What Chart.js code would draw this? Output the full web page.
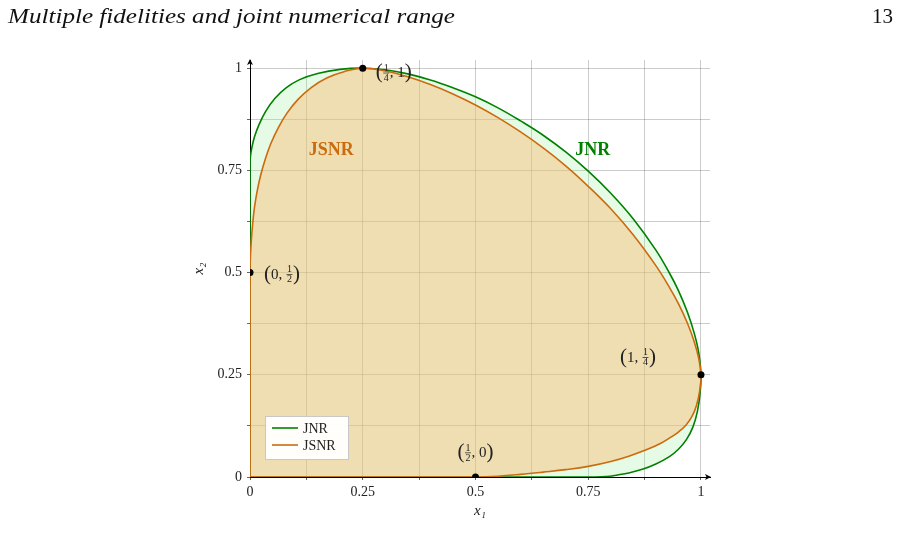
<!DOCTYPE html>
<html>
<head>
<meta charset="utf-8">
<script src="https://cdn.jsdelivr.net/npm/chart.js@4.4.1/dist/chart.umd.min.js"></script>
<style>
  html, body { margin: 0; background: #fff; }
  #wrap { width: 900px; height: 560px; position: relative; }
</style>
</head>
<body>
<div id="wrap"><canvas id="chart"></canvas></div>
<script>
// boundary of the joint numerical range (green), traced counter-clockwise from the origin
const jnrX = [0, 0, 0.001, 0.004, 0.01, 0.02, 0.035, 0.055, 0.08, 0.11, 0.15, 0.2, 0.25,
  0.3, 0.35, 0.4, 0.45, 0.5, 0.55, 0.6, 0.65, 0.7, 0.75, 0.8, 0.85, 0.9,
  0.93, 0.95, 0.97, 0.985, 0.995, 1,
  0.998, 0.992, 0.982, 0.968, 0.95, 0.93, 0.9, 0.87, 0.84, 0.815, 0.79, 0.765, 0];
const jnrY = [0, 0.765, 0.785, 0.805, 0.832, 0.862, 0.895, 0.926, 0.952, 0.972, 0.987, 0.997, 1,
  0.996, 0.986, 0.971, 0.952, 0.93, 0.903, 0.871, 0.836, 0.795, 0.748, 0.694, 0.631, 0.555,
  0.499, 0.456, 0.403, 0.352, 0.304, 0.25,
  0.205, 0.16, 0.122, 0.092, 0.068, 0.05, 0.032, 0.019, 0.01, 0.005, 0.001, 0, 0];

// boundary of the JSNR (orange)
const jsnrX = [0, 0, 0.001, 0.003, 0.006, 0.01, 0.016, 0.024, 0.034, 0.046, 0.062, 0.082, 0.106, 0.135, 0.17, 0.21, 0.25,
  0.3, 0.35, 0.4, 0.45, 0.5, 0.55, 0.6, 0.65, 0.7, 0.75, 0.8, 0.85, 0.9, 0.93, 0.95, 0.97, 0.985, 0.995, 1,
  0.997, 0.99, 0.98, 0.967, 0.95, 0.93, 0.91, 0.88, 0.84, 0.8, 0.75, 0.7, 0.65, 0.6, 0.55, 0.5, 0];
const jsnrY = [0, 0.5, 0.54, 0.58, 0.62, 0.66, 0.7, 0.74, 0.778, 0.815, 0.853, 0.89, 0.923, 0.952, 0.976, 0.992, 1,
  0.993, 0.979, 0.96, 0.937, 0.91, 0.879, 0.844, 0.805, 0.761, 0.711, 0.656, 0.592, 0.517, 0.464, 0.424, 0.376, 0.331, 0.29, 0.25,
  0.21, 0.175, 0.148, 0.127, 0.11, 0.095, 0.082, 0.067, 0.051, 0.038, 0.026, 0.018, 0.012, 0.0065, 0.002, 0, 0];

// marked points and their labels (fractions written as a/b)
const markX = [0.25, 0, 0.5, 1];
const markY = [1, 0.5, 0, 0.25];
const markText = [['1/4', '1'], ['0', '1/2'], ['1/2', '0'], ['1', '1/4']];

const tickValues = [0, 0.25, 0.5, 0.75, 1];
const tickText = ['0', '0.25', '0.5', '0.75', '1'];

const SERIF = '"Liberation Serif", "DejaVu Serif", serif';
const GREEN = '#008000';
const ORANGE = '#cc6a0e';

function toPoints(xs, ys) {
  return xs.map((x, i) => ({ x: x, y: ys[i] }));
}

function tickLabel(v) {
  const i = tickValues.findIndex(t => Math.abs(t - v) < 1e-9);
  return i >= 0 ? tickText[i] : '';
}

function eighths(scale) {
  const ticks = [];
  for (let k = 0; k <= 8; k++) ticks.push({ value: k / 8 });
  scale.ticks = ticks;
}

// draws "(a, b)" with small stacked fractions; y is the math axis
function drawCoord(ctx, a, b, x, y, align) {
  const tok = s => s.includes('/') ? { f: s.split('/') } : { t: s };
  const parts = [{ p: '(' }, tok(a), { t: ', ' }, tok(b), { p: ')' }];
  const fonts = { p: '21px ' + SERIF, t: '15px ' + SERIF, f: '10px ' + SERIF };
  parts.forEach(pt => {
    if (pt.p) { ctx.font = fonts.p; pt.w = ctx.measureText(pt.p).width; }
    else if (pt.t) { ctx.font = fonts.t; pt.w = ctx.measureText(pt.t).width; }
    else { ctx.font = fonts.f; pt.w = Math.max(ctx.measureText(pt.f[0]).width, ctx.measureText(pt.f[1]).width) + 2; }
  });
  const total = parts.reduce((s, pt) => s + pt.w, 0);
  let cx = align === 'center' ? x - total / 2 : align === 'right' ? x - total : x;
  ctx.fillStyle = '#222';
  ctx.textAlign = 'left';
  ctx.textBaseline = 'alphabetic';
  parts.forEach(pt => {
    if (pt.p) {
      ctx.font = fonts.p;
      ctx.fillText(pt.p, cx, y + 6);
    } else if (pt.t) {
      ctx.font = fonts.t;
      ctx.fillText(pt.t, cx, y + 5);
    } else {
      ctx.font = fonts.f;
      ctx.textAlign = 'center';
      ctx.fillText(pt.f[0], cx + pt.w / 2, y - 1.5);
      ctx.fillText(pt.f[1], cx + pt.w / 2, y + 8.5);
      ctx.textAlign = 'left';
      ctx.fillRect(cx + 0.5, y + 0.5, pt.w - 1, 0.7);
    }
    cx += pt.w;
  });
}

const decorations = {
  id: 'decorations',
  afterDraw(chart) {
    const ctx = chart.ctx;
    const xs = chart.scales.x, ys = chart.scales.y;
    const ca = chart.chartArea;
    ctx.save();

    // page header, stretched to the width of the original line
    ctx.fillStyle = '#111';
    ctx.textBaseline = 'alphabetic';
    ctx.textAlign = 'left';
    const head = 'Multiple fidelities and joint numerical range';
    ctx.font = 'italic 22px ' + SERIF;
    const sx = 447 / ctx.measureText(head).width;
    ctx.save();
    ctx.translate(8, 23);
    ctx.scale(sx, 1);
    ctx.fillText(head, 0, 0);
    ctx.restore();
    ctx.font = '21px ' + SERIF;
    ctx.textAlign = 'right';
    ctx.fillText('13', 893, 23);

    // axis arrows
    ctx.fillStyle = '#000';
    ctx.beginPath();
    ctx.moveTo(ca.right + 1, ca.bottom);
    ctx.lineTo(ca.right - 5, ca.bottom - 3);
    ctx.lineTo(ca.right - 3.5, ca.bottom);
    ctx.lineTo(ca.right - 5, ca.bottom + 3);
    ctx.closePath();
    ctx.fill();
    ctx.beginPath();
    ctx.moveTo(ca.left, ca.top - 1);
    ctx.lineTo(ca.left - 3, ca.top + 5);
    ctx.lineTo(ca.left, ca.top + 3.5);
    ctx.lineTo(ca.left + 3, ca.top + 5);
    ctx.closePath();
    ctx.fill();

    // region names
    ctx.font = 'bold 18px ' + SERIF;
    ctx.textAlign = 'center';
    ctx.textBaseline = 'middle';
    ctx.fillStyle = ORANGE;
    ctx.fillText('JSNR', xs.getPixelForValue(0.18), ys.getPixelForValue(0.8));
    ctx.fillStyle = GREEN;
    ctx.fillText('JNR', xs.getPixelForValue(0.76), ys.getPixelForValue(0.8));

    // coordinates of the marked points
    const offsets = [[13, 4, 'left'], [14, 1, 'left'], [0, -25, 'center'], [-45, -18, 'right']];
    markX.forEach((mx, i) => {
      const px = xs.getPixelForValue(mx), py = ys.getPixelForValue(markY[i]);
      const o = offsets[i];
      drawCoord(ctx, markText[i][0], markText[i][1], px + o[0], py + o[1], o[2]);
    });

    // legend box
    const lx = ca.left + 15, ly = ca.bottom - 61;
    ctx.fillStyle = 'rgba(255,255,255,0.95)';
    ctx.fillRect(lx, ly, 83, 43);
    ctx.strokeStyle = '#c8c8c8';
    ctx.lineWidth = 1;
    ctx.strokeRect(lx + 0.5, ly + 0.5, 83, 43);
    const entries = chart.data.datasets.filter(d => d.inLegend).sort((a, b) => a.legendRank - b.legendRank);
    entries.forEach((d, i) => {
      const yy = ly + 12 + i * 17;
      ctx.strokeStyle = d.borderColor;
      ctx.lineWidth = 1.6;
      ctx.beginPath();
      ctx.moveTo(lx + 7, yy);
      ctx.lineTo(lx + 33, yy);
      ctx.stroke();
      ctx.fillStyle = '#222';
      ctx.font = '14px ' + SERIF;
      ctx.textAlign = 'left';
      ctx.textBaseline = 'middle';
      ctx.fillText(d.label, lx + 38, yy + 1);
    });
    ctx.restore();
  }
};

const axisCommon = {
  type: 'linear',
  min: 0,
  max: 1.02,
  afterBuildTicks: eighths,
  grid: { color: 'rgba(0,0,0,0.2)', tickLength: 3, tickColor: 'rgba(0,0,0,0.6)' },
  border: { color: '#000', width: 1 }
};

new Chart(document.getElementById('chart'), {
  type: 'scatter',
  data: {
    datasets: [
      {
        label: 'marks',
        data: toPoints(markX, markY),
        showLine: false,
        pointRadius: 3.5,
        pointBackgroundColor: '#000',
        pointBorderWidth: 0,
        order: 0
      },
      {
        label: 'JSNR',
        inLegend: true,
        legendRank: 2,
        data: toPoints(jsnrX, jsnrY),
        showLine: true,
        tension: 0.4,
        borderColor: ORANGE,
        borderWidth: 1.6,
        backgroundColor: 'rgba(252,184,105,0.42)',
        fill: 'shape',
        pointRadius: 0,
        order: 1
      },
      {
        label: 'JNR',
        inLegend: true,
        legendRank: 1,
        data: toPoints(jnrX, jnrY),
        showLine: true,
        tension: 0.4,
        borderColor: GREEN,
        borderWidth: 1.6,
        backgroundColor: 'rgba(150,240,150,0.25)',
        fill: 'shape',
        pointRadius: 0,
        order: 2
      }
    ]
  },
  options: {
    responsive: true,
    maintainAspectRatio: false,
    animation: false,
    layout: { padding: { left: 186, right: 190, top: 60, bottom: 36 } },
    plugins: {
      legend: { display: false },
      tooltip: { enabled: false }
    },
    scales: {
      x: Object.assign({}, axisCommon, {
        afterFit(scale) { scale.height = 47; },
        ticks: {
          autoSkip: false, maxRotation: 0, padding: 4,
          color: '#222', font: { family: SERIF, size: 14 },
          callback: tickLabel
        },
        title: {
          display: true, text: 'x₁', color: '#222',
          font: { family: SERIF, size: 15, style: 'italic' },
          padding: { top: 4, bottom: 4 }
        }
      }),
      y: Object.assign({}, axisCommon, {
        afterFit(scale) { scale.width = 64; },
        ticks: {
          autoSkip: false, padding: 5,
          color: '#222', font: { family: SERIF, size: 14 },
          callback: tickLabel
        },
        title: {
          display: true, text: 'x₂', color: '#222',
          font: { family: SERIF, size: 15, style: 'italic' },
          padding: { top: 4, bottom: 4 }
        }
      })
    }
  },
  plugins: [decorations]
});
</script>
</body>
</html>
